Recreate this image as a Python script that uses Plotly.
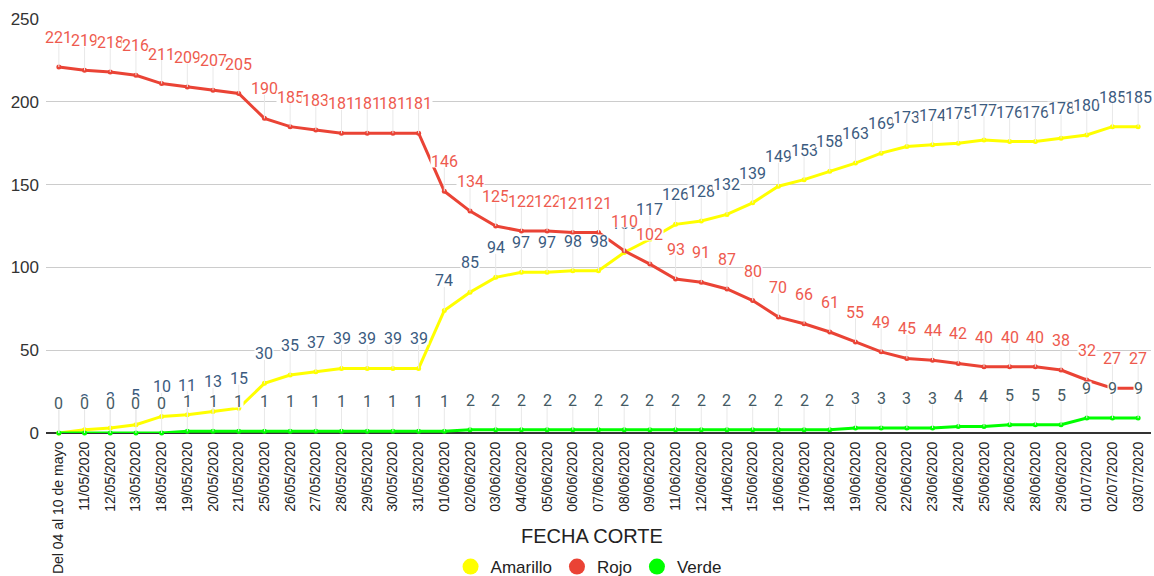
import plotly.graph_objects as go

categories = ["Del 04 al 10 de mayo", "11/05/2020", "12/05/2020", "13/05/2020", "18/05/2020",
              "19/05/2020", "20/05/2020", "21/05/2020", "25/05/2020", "26/05/2020", "27/05/2020",
              "28/05/2020", "29/05/2020", "30/05/2020", "31/05/2020", "01/06/2020", "02/06/2020",
              "03/06/2020", "04/06/2020", "05/06/2020", "06/06/2020", "07/06/2020", "08/06/2020",
              "09/06/2020", "11/06/2020", "12/06/2020", "14/06/2020", "15/06/2020", "16/06/2020",
              "17/06/2020", "18/06/2020", "19/06/2020", "20/06/2020", "22/06/2020", "23/06/2020",
              "24/06/2020", "25/06/2020", "26/06/2020", "28/06/2020", "29/06/2020", "01/07/2020",
              "02/07/2020", "03/07/2020"]

amarillo = [0, 2, 3, 5, 10, 11, 13, 15, 30, 35, 37, 39, 39, 39, 39, 74, 85, 94, 97, 97, 98, 98,
            109, 117, 126, 128, 132, 139, 149, 153, 158, 163, 169, 173, 174, 175, 177, 176, 176,
            178, 180, 185, 185]
rojo = [221, 219, 218, 216, 211, 209, 207, 205, 190, 185, 183, 181, 181, 181, 181, 146, 134, 125,
        122, 122, 121, 121, 110, 102, 93, 91, 87, 80, 70, 66, 61, 55, 49, 45, 44, 42, 40, 40, 40,
        38, 32, 27, 27]
verde = [0, 0, 0, 0, 0, 1, 1, 1, 1, 1, 1, 1, 1, 1, 1, 1, 2, 2, 2, 2, 2, 2, 2, 2, 2, 2, 2, 2, 2,
         2, 2, 3, 3, 3, 3, 4, 4, 5, 5, 5, 9, 9, 9]

series = [
    ("Amarillo", amarillo, "#ffff00", "#3b5b80"),
    ("Rojo", rojo, "#ea4335", "#ee5a4e"),
    ("Verde", verde, "#00ff00", "#455a64"),
]

fig = go.Figure()
for name, vals, col, _ in series:
    fig.add_trace(go.Scatter(x=categories, y=vals, mode="lines+markers", name=name,
                             line=dict(color=col, width=3), marker=dict(color=col, size=5),
                             showlegend=False, cliponaxis=False))
for name, vals, col, _ in series:
    fig.add_trace(go.Scatter(x=[None], y=[None], mode="markers", name=name,
                             marker=dict(color=col, size=16), showlegend=True))

annotations = []
for name, vals, col, lcol in series:
    for c, v in zip(categories, vals):
        annotations.append(dict(x=c, y=v, xref="x", yref="y", text=str(v), showarrow=True,
                                arrowhead=0, arrowwidth=1, arrowcolor="#e8e8e8", ax=0, ay=-30,
                                standoff=0, bgcolor="white", borderpad=0, height=12,
                                valign="middle",
                                font=dict(family="Roboto", size=16, color=lcol)))
annotations.append(dict(x=0.4937, y=-0.249, xref="paper", yref="paper", text="FECHA CORTE",
                        showarrow=False, yanchor="middle",
                        font=dict(family="Liberation Sans, Arial", size=20, color="#222222")))

fig.update_layout(
    width=1154, height=576,
    margin=dict(l=46, r=3, t=19, b=143),
    paper_bgcolor="white", plot_bgcolor="white",
    font=dict(family="Liberation Sans, Arial", color="#222222"),
    xaxis=dict(type="category", tickangle=-90, tickfont=dict(size=14, color="#222222"),
               showgrid=False, showline=False, ticks="", range=[-0.5, 42.5],
               automargin=False, ticklabelstandoff=5),
    yaxis=dict(range=[0, 250], dtick=50, gridcolor="#cccccc", gridwidth=1,
               zeroline=True, zerolinecolor="#333333", zerolinewidth=1.5,
               tickfont=dict(size=17, color="#333333"), ticks="", showline=False,
               automargin=False, ticklabelstandoff=6),
    legend=dict(orientation="h", x=0.491, xanchor="center", y=0.0156, yanchor="middle",
                yref="container", font=dict(size=17, color="#222222"), itemsizing="trace"),
    annotations=annotations,
)

fig.write_html("out.html", post_script="document.body.style.margin='0';",
               config={"displayModeBar": False})
